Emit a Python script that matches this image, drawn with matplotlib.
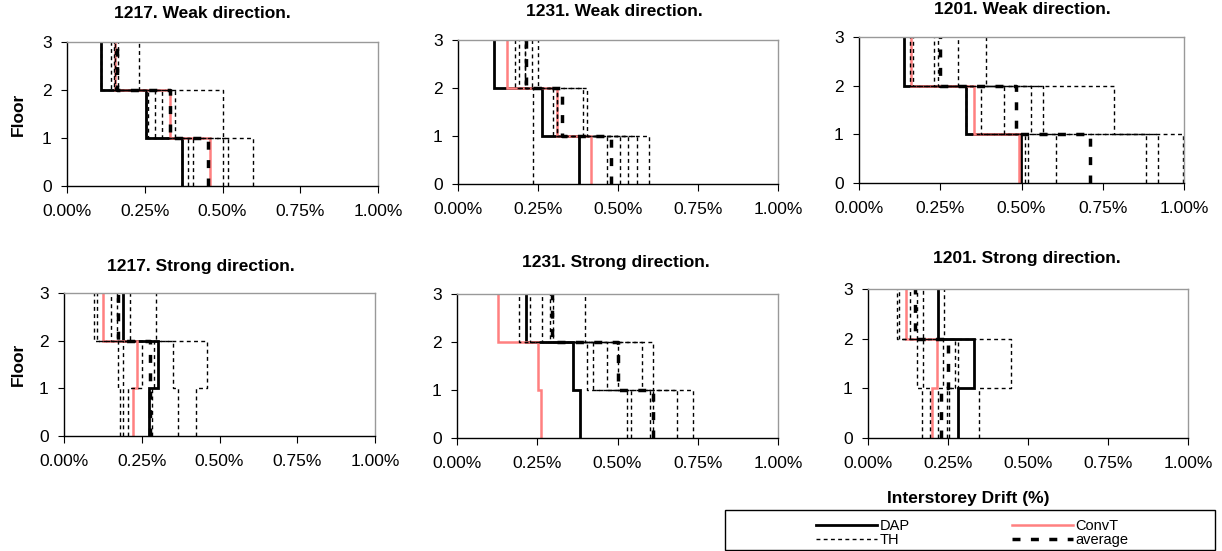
import matplotlib
matplotlib.use("Agg")
import matplotlib.pyplot as plt
from matplotlib.lines import Line2D
from matplotlib.patches import Rectangle

plt.rcParams['font.family'] = ['Liberation Sans', 'DejaVu Sans']

# storey drifts in % : (storey 1, storey 2, storey 3)
titles = ["1217. Weak direction.", "1231. Weak direction.", "1201. Weak direction.",
          "1217. Strong direction.", "1231. Strong direction.", "1201. Strong direction."]

dap = [[0.369, 0.254, 0.108],
       [0.379, 0.264, 0.112],
       [0.497, 0.329, 0.138],
       [0.273, 0.303, 0.190],
       [0.383, 0.362, 0.214],
       [0.280, 0.332, 0.218]]

convt = [[0.460, 0.331, 0.154],
         [0.415, 0.308, 0.154],
         [0.493, 0.355, 0.160],
         [0.223, 0.234, 0.124],
         [0.261, 0.251, 0.129],
         [0.199, 0.217, 0.119]]

average = [[0.453, 0.330, 0.160],
           [0.478, 0.324, 0.212],
           [0.710, 0.483, 0.249],
           [0.275, 0.277, 0.175],
           [0.611, 0.503, 0.295],
           [0.228, 0.249, 0.147]]

# time-history records, six per chart
th_1217_weak = [[0.597, 0.500, 0.230], [0.517, 0.347, 0.165], [0.503, 0.305, 0.140],
                [0.405, 0.283, 0.155], [0.388, 0.260, 0.150], [0.370, 0.254, 0.110]]
th_1231_weak = [[0.598, 0.402, 0.251], [0.558, 0.390, 0.230], [0.530, 0.310, 0.210],
                [0.506, 0.298, 0.178], [0.467, 0.310, 0.190], [0.234, 0.234, 0.210]]
th_1201_weak = [[0.997, 0.785, 0.390], [0.920, 0.567, 0.305], [0.883, 0.530, 0.244],
                [0.606, 0.447, 0.231], [0.520, 0.375, 0.167], [0.511, 0.330, 0.157]]
th_1217_strong = [[0.424, 0.459, 0.295], [0.368, 0.351, 0.212], [0.282, 0.290, 0.169],
                  [0.207, 0.250, 0.151], [0.190, 0.190, 0.107], [0.180, 0.175, 0.096]]
th_1231_strong = [[0.734, 0.611, 0.399], [0.684, 0.575, 0.300], [0.611, 0.500, 0.290],
                  [0.600, 0.466, 0.264], [0.542, 0.423, 0.227], [0.529, 0.404, 0.194]]
th_1201_strong = [[0.347, 0.447, 0.237], [0.254, 0.282, 0.173], [0.246, 0.272, 0.154],
                  [0.220, 0.235, 0.130], [0.194, 0.173, 0.098], [0.168, 0.154, 0.092]]
th = [th_1217_weak, th_1231_weak, th_1201_weak,
      th_1217_strong, th_1231_strong, th_1201_strong]

xticks = [0, 0.25, 0.5, 0.75, 1.0]
xticklabels = ["0.00%", "0.25%", "0.50%", "0.75%", "1.00%"]
floors = [0, 1, 2, 3]

W, H = 1222, 551
# axes boxes in pixels: left, top, right, bottom
boxes = [(67, 42, 378, 186), (458, 40, 778, 184), (859, 37, 1184, 183),
         (64, 293, 375, 436), (457, 294, 778, 438), (868, 289, 1188, 438)]
title_pos = [(202, 14), (614, 12), (1022, 10), (201, 266), (616, 263), (1027, 259)]

pink = '#FF8080'
dap_style = dict(color='black', lw=2.0, solid_joinstyle='miter')
conv_style = dict(color=pink, lw=1.8, solid_joinstyle='miter')
th_style = dict(color='black', lw=1.0, linestyle=(0, (2.8, 2.4)))
avg_style = dict(color='black', lw=2.5, linestyle=(0, (2.3, 3.0)))


def step(d):
    # vertical segment per storey, horizontal jog at each floor
    return [d[0], d[0], d[1], d[1], d[2], d[2]], [0, 1, 1, 2, 2, 3]


fig = plt.figure(figsize=(W / 100, H / 100), dpi=100)

for i in range(6):
    l, t, r, b = boxes[i]
    ax = fig.add_axes([l / W, 1 - b / H, (r - l) / W, (b - t) / H])
    x, y = step(dap[i])
    ax.plot(x, y, **dap_style)
    x, y = step(convt[i])
    ax.plot(x, y, **conv_style)
    for rec in th[i]:
        x, y = step(rec)
        ax.plot(x, y, **th_style)
    x, y = step(average[i])
    ax.plot(x, y, **avg_style)

    ax.set_xlim(0, 1.0)
    ax.set_ylim(0, 3)
    ax.set_xticks(xticks)
    ax.set_xticklabels(xticklabels)
    ax.set_yticks(floors)
    ax.tick_params(axis='x', direction='out', length=5, pad=8, labelsize=12.5)
    ax.tick_params(axis='y', direction='out', length=4, pad=7, labelsize=12.5)
    for s in ['left', 'bottom']:
        ax.spines[s].set_color('black')
        ax.spines[s].set_linewidth(1.0)
    for s in ['top', 'right']:
        ax.spines[s].set_color('#999999')
        ax.spines[s].set_linewidth(1.0)

    tx, ty = title_pos[i]
    fig.text(tx / W, 1 - ty / H, titles[i], ha='center', va='center',
             fontsize=12.5, fontweight='bold')

fig.text(18 / W, 1 - 114 / H, "Floor", rotation=90, ha='center', va='center',
         fontsize=12.5, fontweight='bold')
fig.text(18 / W, 1 - 364 / H, "Floor", rotation=90, ha='center', va='center',
         fontsize=12.5, fontweight='bold')
fig.text(968 / W, 1 - 498 / H, "Interstorey Drift (%)", ha='center', va='center',
         fontsize=12.5, fontweight='bold')

# legend frame
fig.patches.append(Rectangle((725 / W, 1 - 550 / H), (1215 - 725) / W, 40 / H,
                             transform=fig.transFigure, fill=False,
                             edgecolor='black', lw=1.0))
handles = [Line2D([], [], **dap_style), Line2D([], [], **th_style),
           Line2D([], [], **conv_style), Line2D([], [], **avg_style)]
labels = ["DAP", "TH", "ConvT", "average"]
fig.legend(handles, labels, ncol=2, loc='upper left',
           bbox_to_anchor=(806 / W, 1 - 509 / H), frameon=False,
           fontsize=10.5, handlelength=4.2, handletextpad=0.15,
           columnspacing=7.0, labelspacing=0.0, borderpad=0.2)

fig.savefig("out.png", dpi=100)
